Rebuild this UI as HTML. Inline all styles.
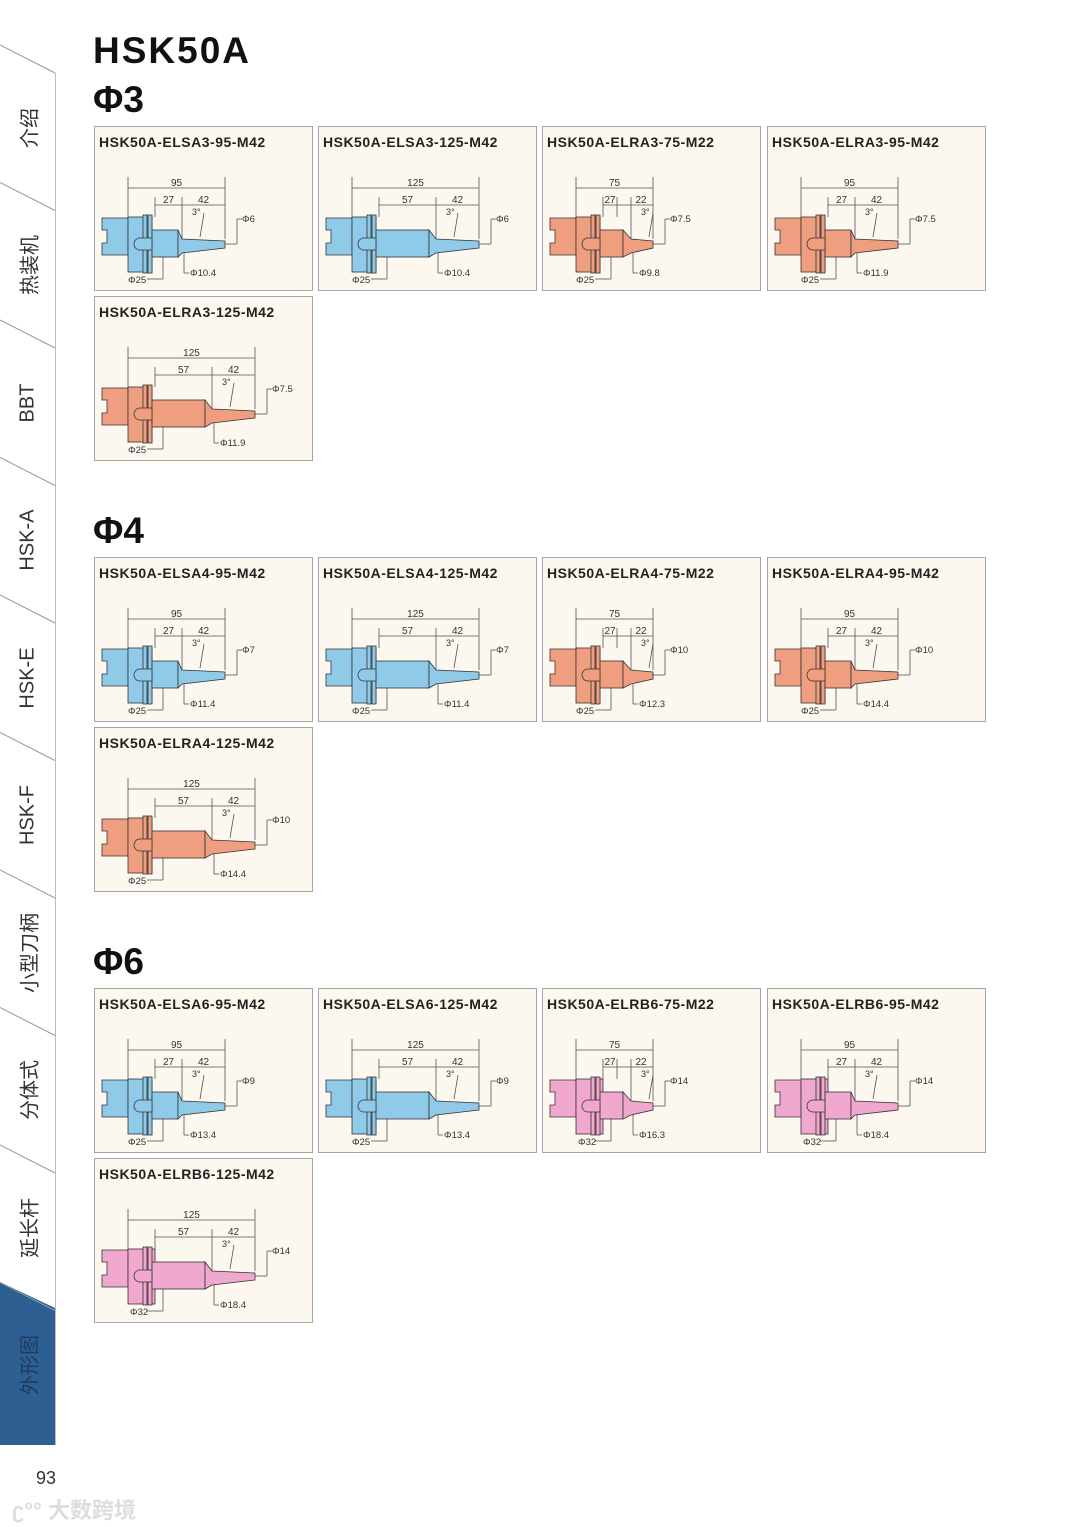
<!DOCTYPE html>
<html><head><meta charset="utf-8"><style>
body{margin:0;width:1080px;height:1527px;background:#fff;position:relative;overflow:hidden;font-family:"Liberation Sans","Noto Sans CJK SC",sans-serif}
.h{position:absolute;left:93px;font-weight:bold;color:#111;font-family:"Liberation Sans",sans-serif}
.card{position:absolute;width:217px;height:163px;background:#fcf8f0;border:1px solid #a9a49c}
.card .t{position:absolute;left:4px;top:7px;font-size:14px;font-weight:bold;color:#222;letter-spacing:0.5px;font-family:"Liberation Sans",sans-serif}
.card svg{position:absolute;left:0;top:0}
.tab{position:absolute;left:0;width:55px;text-align:center}
.tab span{position:absolute;left:50%;top:50%;transform:translate(-50%,-50%) rotate(-90deg);white-space:nowrap;font-size:20px;color:#333}
</style></head><body>
<svg width="60" height="1450" style="position:absolute;left:0;top:0">
<polygon points="0,1282 55,1308 55,1445 0,1445" fill="#2e5f93"/>
<g id="lines" stroke="#999" stroke-width="1" fill="none"></g>
<line x1="55.5" y1="73" x2="55.5" y2="1445" stroke="#bbb"/>
</svg>
<div id="tabs"></div>
<div class="h" style="top:30px;font-size:37px;letter-spacing:2px">HSK50A</div>
<div class="h" style="top:79px;font-size:37px">Φ3</div>
<div class="h" style="top:510px;font-size:37px">Φ4</div>
<div class="h" style="top:941px;font-size:37px">Φ6</div>
<div style="position:absolute;left:36px;top:1468px;font-size:18px;color:#333">93</div>
<div style="position:absolute;left:12px;top:1493px;font-size:22px;color:#ddd;font-weight:bold">ʗ°° 大数跨境</div>
<div id="cards"></div>
<script>
const tabNames=["介绍","热装机","BBT","HSK-A","HSK-E","HSK-F","小型刀柄","分体式","延长杆","外形图"];
const lg=document.getElementById('lines');
for(let i=0;i<10;i++){
 const y=45+i*137.5;
 const l=document.createElementNS('http://www.w3.org/2000/svg','line');
 l.setAttribute('x1',0);l.setAttribute('y1',y);l.setAttribute('x2',55);l.setAttribute('y2',y+28);
 lg.appendChild(l);
 const d=document.createElement('div');d.className='tab';
 
 
 d.style.top=(y+14)+'px';d.style.height='137px';
 d.innerHTML='<span style="color:'+(i==9?'#1d3b60':'#333')+'">'+tabNames[i]+'</span>';
 document.getElementById('tabs').appendChild(d);
}
const blue='#8fcbe8',orange='#ef9f80',pink='#f0a8cf';
const cards=[
["HSK50A-ELSA3-95-M42",blue,95,"Φ6","Φ10.4","Φ25"],
["HSK50A-ELSA3-125-M42",blue,125,"Φ6","Φ10.4","Φ25"],
["HSK50A-ELRA3-75-M22",orange,75,"Φ7.5","Φ9.8","Φ25"],
["HSK50A-ELRA3-95-M42",orange,95,"Φ7.5","Φ11.9","Φ25"],
["HSK50A-ELRA3-125-M42",orange,125,"Φ7.5","Φ11.9","Φ25"],
["HSK50A-ELSA4-95-M42",blue,95,"Φ7","Φ11.4","Φ25"],
["HSK50A-ELSA4-125-M42",blue,125,"Φ7","Φ11.4","Φ25"],
["HSK50A-ELRA4-75-M22",orange,75,"Φ10","Φ12.3","Φ25"],
["HSK50A-ELRA4-95-M42",orange,95,"Φ10","Φ14.4","Φ25"],
["HSK50A-ELRA4-125-M42",orange,125,"Φ10","Φ14.4","Φ25"],
["HSK50A-ELSA6-95-M42",blue,95,"Φ9","Φ13.4","Φ25"],
["HSK50A-ELSA6-125-M42",blue,125,"Φ9","Φ13.4","Φ25"],
["HSK50A-ELRB6-75-M22",pink,75,"Φ14","Φ16.3","Φ32"],
["HSK50A-ELRB6-95-M42",pink,95,"Φ14","Φ18.4","Φ32"],
["HSK50A-ELRB6-125-M42",pink,125,"Φ14","Φ18.4","Φ32"]];
const xs=[94,318,542,767], ys=[[126,296],[557,727],[988,1158]];
const pos=[];
for(let s=0;s<3;s++){for(let c=0;c<4;c++)pos.push([xs[c],ys[s][0]]);pos.push([94,ys[s][1]]);}
cards.forEach((cd,i)=>{
 const [name,col,L,d1,d2,d3]=cd;const [x,y]=pos[i];
 const tip=L==75?110:(L==95?130:160);
 const b1=L==75?88:(L==95?87:117);
 const lab2=L==75?["27","22"]:(L==95?["27","42"]:["57","42"]);
 const rB=L==125?110:(L==75?80:83);
 const big=col==pink;
 const s=`<svg width="217" height="163" font-family="Liberation Sans,sans-serif" font-size="10" fill="#333">
 <g stroke="#555" stroke-width="0.8" fill="none">
 <line x1="33" y1="50" x2="33" y2="90"/><line x1="${tip}" y1="50" x2="${tip}" y2="112"/>
 <line x1="33" y1="61" x2="${tip}" y2="61"/>
 <line x1="60" y1="70" x2="60" y2="90"/><line x1="${b1}" y1="70" x2="${b1}" y2="112"/>
 <line x1="60" y1="78" x2="${tip}" y2="78"/>
 <line x1="${tip}" y1="117" x2="${tip+12}" y2="117"/><line x1="${tip+12}" y1="92" x2="${tip+12}" y2="117"/><line x1="${tip+12}" y1="92" x2="${tip+17}" y2="92"/>
 <line x1="${b1+2}" y1="124" x2="${b1+2}" y2="146"/><line x1="${b1+2}" y1="146" x2="${b1+7}" y2="146"/>
 <line x1="68" y1="130" x2="68" y2="152"/><line x1="68" y1="152" x2="52" y2="152"/>
 <line x1="${b1+22}" y1="86" x2="${b1+18}" y2="110"/>
 </g>
 ${L==75?'<line x1="74" y1="70" x2="74" y2="90" stroke="#555" stroke-width="0.8"/>':''}
 <g stroke="#333" stroke-width="0.8" fill="${col}">
 <path d="M7 91 H33 V128 H7 V116 H12 V103 H7 Z"/>
 <rect x="33" y="90" width="${big?27:24}" height="55"/>
 <rect x="48" y="88" width="4" height="58"/><rect x="53" y="88" width="4" height="58"/>
 <rect x="57" y="103" width="${rB-57}" height="27"/>
 <path d="M${rB} 103 L${b1} 112 L${tip} 114 L${tip} 121 L${b1} 126 L${rB} 130 Z"/>
 <path d="M45 111 a6 6 0 1 0 0 12 h12 v-12 Z"/>
 </g>
 <text x="${(33+tip)/2}" y="59" text-anchor="middle">${L}</text>
 <text x="${L==75?67:(60+b1)/2}" y="76" text-anchor="middle">${lab2[0]}</text>
 <text x="${L==75?98:(b1+tip)/2}" y="76" text-anchor="middle">${lab2[1]}</text>
 <text x="${b1+10}" y="88" font-size="9">3°</text>
 <text x="${tip+17}" y="95" font-size="9.5">${d1}</text>
 <text x="${b1+8}" y="149" font-size="9.5">${d2}</text>
 <text x="${big?35:33}" y="156" font-size="9.5">${d3}</text>
 </svg>`;
 const el=document.createElement('div');el.className='card';
 
 
 el.style.left=x+'px';el.style.top=y+'px';
 el.innerHTML='<div class="t">'+name+'</div>'+s;
 document.getElementById('cards').appendChild(el);
});
</script>
</body></html>
